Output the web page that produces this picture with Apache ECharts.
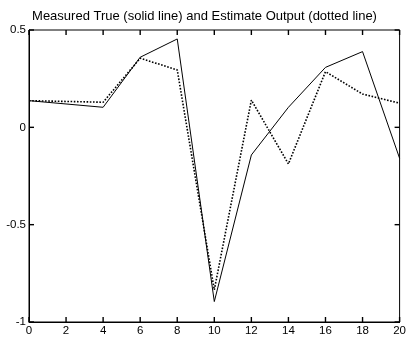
<!DOCTYPE html>
<html><head><meta charset="utf-8">
<script src="https://cdn.jsdelivr.net/npm/echarts@6/dist/echarts.min.js"></script>
<style>html,body{margin:0;padding:0;background:#fff}#c{width:409px;height:338px}</style>
</head><body><div id="c"></div>
<script>
const xValues = [0, 4, 6, 8, 10, 12, 14, 16, 18, 20];
const measuredTrue = [0.137, 0.103, 0.360, 0.454, -0.895, -0.142, 0.103, 0.308, 0.389, -0.159];
const estimateOutput = [0.137, 0.129, 0.355, 0.295, -0.835, 0.140, -0.188, 0.286, 0.171, 0.124];
const xTicks = [0, 2, 4, 6, 8, 10, 12, 14, 16, 18, 20];
const yTicks = [-1, -0.5, 0, 0.5];

const font = 'Liberation Sans, Arial, Helvetica, sans-serif';
const xMin = xTicks[0], xMax = xTicks[xTicks.length - 1];
const yMin = yTicks[0], yMax = yTicks[yTicks.length - 1];
const chart = echarts.init(document.getElementById('c'), null, {renderer: 'canvas'});
const pair = (ys) => xValues.map((x, i) => [x, ys[i]]);
const tickData = xTicks.map(x => [x, yMin, 0]).concat(yTicks.map(y => [xMin, y, 1]));
const TL = 5;
function renderTick(params, api) {
  const kind = api.value(2);
  const style = {stroke: '#000', lineWidth: 1.4};
  if (kind === 0) {
    const x = api.value(0);
    const b = api.coord([x, yMin]), t = api.coord([x, yMax]);
    return {type: 'group', children: [
      {type: 'line', shape: {x1: b[0], y1: b[1], x2: b[0], y2: b[1] - TL}, style},
      {type: 'line', shape: {x1: t[0], y1: t[1], x2: t[0], y2: t[1] + TL}, style}
    ]};
  } else {
    const y = api.value(1);
    const l = api.coord([xMin, y]), r = api.coord([xMax, y]);
    return {type: 'group', children: [
      {type: 'line', shape: {x1: l[0], y1: l[1], x2: l[0] + TL, y2: l[1]}, style},
      {type: 'line', shape: {x1: r[0], y1: r[1], x2: r[0] - TL, y2: r[1]}, style}
    ]};
  }
}
chart.setOption({
  animation: false,
  title: {text: 'Measured True (solid line) and Estimate Output (dotted line)', left: 'center', top: 5,
    textStyle: {fontFamily: font, fontSize: 13, fontWeight: 'normal', color: '#000'}},
  grid: {left: 29, right: 8, top: 30, bottom: 16, containLabel: false, show: true, borderColor: '#000', borderWidth: 1},
  xAxis: {type: 'value', min: xMin, max: xMax, interval: 2, position: 'bottom',
    axisLine: {show: true, onZero: false, lineStyle: {color: '#000'}},
    axisTick: {show: false},
    splitLine: {show: false},
    axisLabel: {fontFamily: font, fontSize: 11.5, color: '#000', margin: 3}},
  yAxis: {type: 'value', min: yMin, max: yMax, interval: 0.5, position: 'left',
    axisLine: {show: true, onZero: false, lineStyle: {color: '#000'}},
    axisTick: {show: false},
    splitLine: {show: false},
    axisLabel: {fontFamily: font, fontSize: 11.5, color: '#000', margin: 3, formatter: v => String(v)}},
  series: [
    {type: 'custom', data: tickData, renderItem: renderTick, clip: false, silent: true, z: 5},
    {type: 'line', data: pair(measuredTrue), symbol: 'none', lineStyle: {color: '#000', width: 1, type: 'solid'}},
    {type: 'line', data: pair(estimateOutput), symbol: 'none', lineStyle: {color: '#000', width: 1.6, type: [1.6, 1.6]}}
  ]
});
</script></body></html>
